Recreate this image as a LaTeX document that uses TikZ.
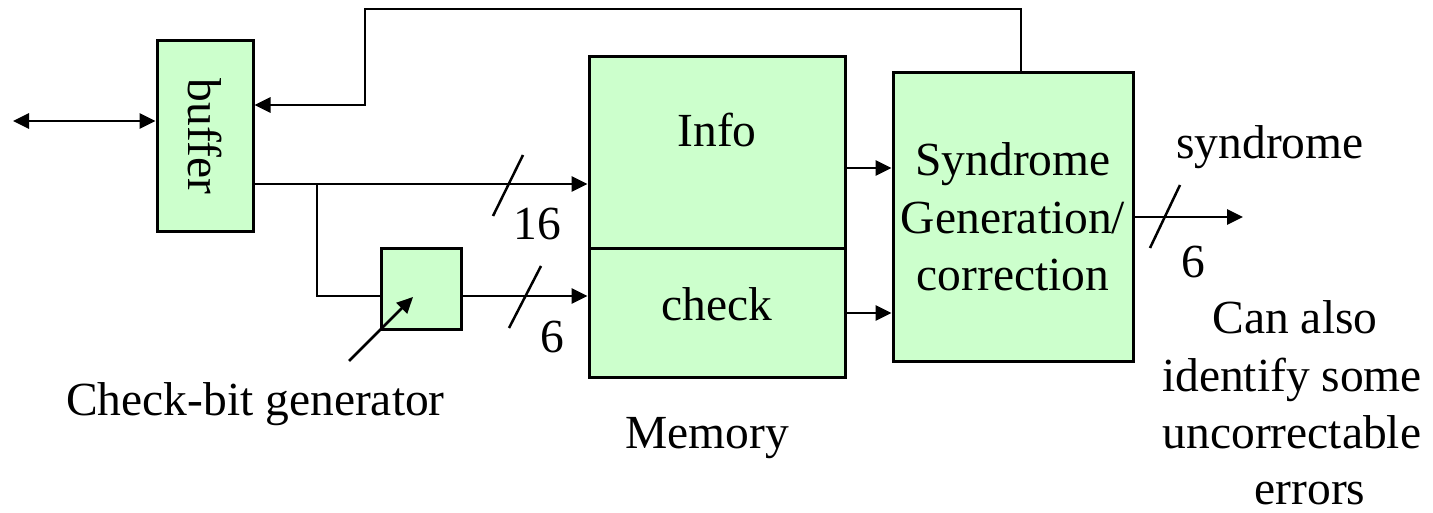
\documentclass[tikz,border=0pt]{standalone}
\usepackage{fontspec}
\setmainfont{Liberation Serif}
\usepackage{graphicx}
\usetikzlibrary{arrows.meta}
\definecolor{boxgreen}{HTML}{CCFFCC}
\begin{document}
\begin{tikzpicture}[x=1pt, y=-1pt, line width=2.8pt,
  >={Triangle[length=16pt,width=15pt]},
  every node/.style={font=\fontsize{47.5}{57.5}\selectfont, inner sep=0pt},
  block/.style={draw, fill=boxgreen, line width=3pt},
  slashmark/.style={line width=2.5pt}]
\useasboundingbox (0,0) rectangle (1433,513);

% blocks
\node[block, minimum width=96pt, minimum height=191pt] (buffer) at (205,136.5) {\rotatebox{-90}{buffer}};
\node[block, minimum width=80pt, minimum height=80pt] (gen) at (421,289) {};
\node[block, minimum width=256pt, minimum height=192pt] (info) at (717,153) {};
\node[block, minimum width=256pt, minimum height=128pt] (chk) at (717,313) {};
\node[block, minimum width=240pt, minimum height=288pt, align=center] (synd) at (1013,217)
  {Syndrome\\Generation/\\correction};

% labels
\node[anchor=base] (infotxt) at (717,147) {Info};
\node[anchor=base] (chktxt) at (717,320) {check};
\node[anchor=base] (memtxt) at (707,448) {Memory};
\node[anchor=base] (gentxt) at (255.5,415) {Check-bit generator};
\node[anchor=base] (syntxt) at (1270,159) {syndrome};
\node[anchor=base] (n16) at (537,240) {16};
\node[anchor=base] (n6a) at (552,352) {6};
\node[anchor=base] (n6b) at (1193,278) {6};
\node[anchor=base] (note1) at (1295,334) {Can also};
\node[anchor=base] (note2) at (1292,391) {identify some};
\node[anchor=base] (note3) at (1292,448) {uncorrectable};
\node[anchor=base] (note4) at (1310,504) {errors};

% external bus
\coordinate (ext) at (13,121);
\draw[<->] (ext) -- (ext -| buffer.west);

% correction feedback to the buffer
\coordinate (fbtop) at (1021,9);
\coordinate (fbturn) at (365,105);
\draw[->] (fbtop |- synd.north) -- (fbtop) -- (fbtop -| fbturn) -- (fbturn) -- (fbturn -| buffer.east);

% data path into memory
\coordinate (split) at (317,184);
\draw[->] (split -| buffer.east) -- (split -| info.west);
\coordinate (low) at (317,296);
\draw (split) -- (low) -- (low -| gen.west);
\draw[->] (low -| gen.east) -- (low -| chk.west);

% pointer to the check-bit generator
\coordinate (gentail) at (349,361);
\coordinate (genhead) at (413,297);
\draw[->, line width=2.5pt] (gentail) -- (genhead);

% memory read-out
\coordinate (up) at (0,168);
\coordinate (dn) at (0,313);
\draw[->] (up -| info.east) -- (up -| synd.west);
\draw[->] (dn -| chk.east) -- (dn -| synd.west);

% syndrome output
\coordinate (outend) at (1243,217);
\draw[->] (outend -| synd.east) -- (outend);

% bus-width slashes
\draw[slashmark] (493,216) -- (523,155);
\draw[slashmark] (509,328) -- (541,266);
\draw[slashmark] (1150,248) -- (1180,185);
\end{tikzpicture}
\end{document}
